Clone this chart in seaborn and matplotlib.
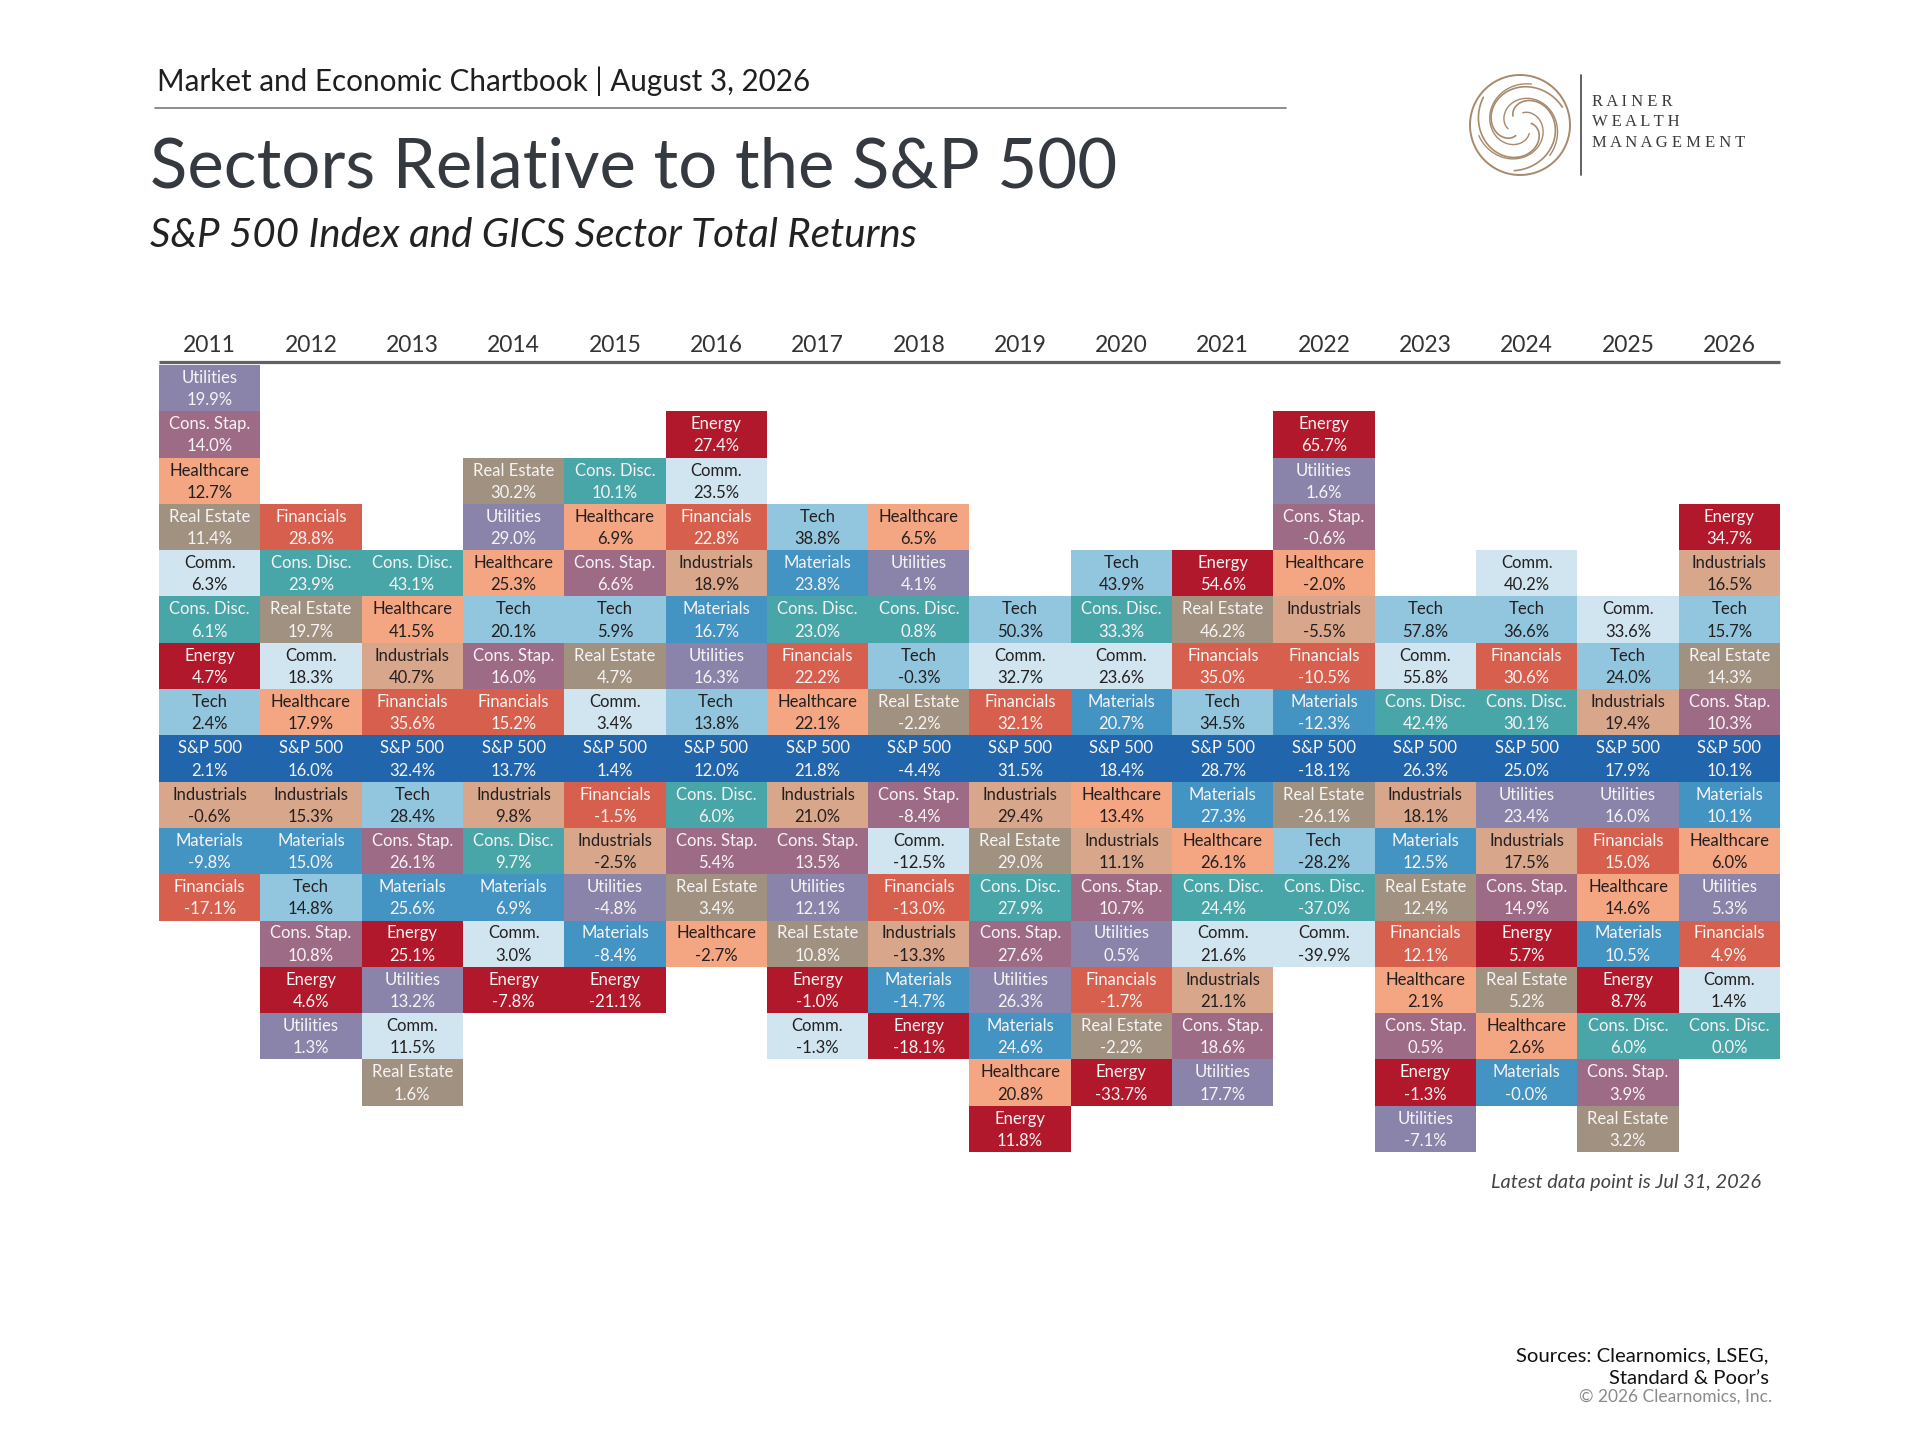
import numpy as np
import pandas as pd
import matplotlib
matplotlib.use("Agg")
import matplotlib.pyplot as plt
from matplotlib.colors import ListedColormap
import seaborn as sns

# ---------------- data ----------------
years = [2011, 2012, 2013, 2014, 2015, 2016, 2017, 2018,
         2019, 2020, 2021, 2022, 2023, 2024, 2025, 2026]

sectors = ["S&P 500", "Utilities", "Cons. Stap.", "Healthcare", "Real Estate",
           "Comm.", "Cons. Disc.", "Energy", "Tech", "Industrials",
           "Materials", "Financials"]

sp500       = [2.1, 16.0, 32.4, 13.7, 1.4, 12.0, 21.8, -4.4, 31.5, 18.4, 28.7, -18.1, 26.3, 25.0, 17.9, 10.1]
utilities   = [19.9, 1.3, 13.2, 29.0, -4.8, 16.3, 12.1, 4.1, 26.3, 0.5, 17.7, 1.6, -7.1, 23.4, 16.0, 5.3]
cons_stap   = [14.0, 10.8, 26.1, 16.0, 6.6, 5.4, 13.5, -8.4, 27.6, 10.7, 18.6, -0.6, 0.5, 14.9, 3.9, 10.3]
healthcare  = [12.7, 17.9, 41.5, 25.3, 6.9, -2.7, 22.1, 6.5, 20.8, 13.4, 26.1, -2.0, 2.1, 2.6, 14.6, 6.0]
real_estate = [11.4, 19.7, 1.6, 30.2, 4.7, 3.4, 10.8, -2.2, 29.0, -2.2, 46.2, -26.1, 12.4, 5.2, 3.2, 14.3]
comm        = [6.3, 18.3, 11.5, 3.0, 3.4, 23.5, -1.3, -12.5, 32.7, 23.6, 21.6, -39.9, 55.8, 40.2, 33.6, 1.4]
cons_disc   = [6.1, 23.9, 43.1, 9.7, 10.1, 6.0, 23.0, 0.8, 27.9, 33.3, 24.4, -37.0, 42.4, 30.1, 6.0, 0.0]
energy      = [4.7, 4.6, 25.1, -7.8, -21.1, 27.4, -1.0, -18.1, 11.8, -33.7, 54.6, 65.7, -1.3, 5.7, 8.7, 34.7]
tech        = [2.4, 14.8, 28.4, 20.1, 5.9, 13.8, 38.8, -0.3, 50.3, 43.9, 34.5, -28.2, 57.8, 36.6, 24.0, 15.7]
industrials = [-0.6, 15.3, 40.7, 9.8, -2.5, 18.9, 21.0, -13.3, 29.4, 11.1, 21.1, -5.5, 18.1, 17.5, 19.4, 16.5]
materials   = [-9.8, 15.0, 25.6, 6.9, -8.4, 16.7, 23.8, -14.7, 24.6, 20.7, 27.3, -12.3, 12.5, -0.0, 10.5, 10.1]
financials  = [-17.1, 28.8, 35.6, 15.2, -1.5, 22.8, 22.2, -13.0, 32.1, -1.7, 35.0, -10.5, 12.1, 30.6, 15.0, 4.9]

sector_colors = ["#2166ac", "#8b84aa", "#9e6b87", "#f4a582", "#a09181",
                 "#d1e5f0", "#48a6a9", "#b2182b", "#92c5de", "#d8a78b",
                 "#4393c3", "#d6604d"]
dark_text_sectors = ["Healthcare", "Comm.", "Tech", "Industrials"]

returns = pd.DataFrame(
    [sp500, utilities, cons_stap, healthcare, real_estate, comm, cons_disc,
     energy, tech, industrials, materials, financials],
    index=sectors, columns=years)

# ---------------- layout of the quilt ----------------
N_ROWS = 17
SP_ROW = 8
codes = np.full((N_ROWS, len(years)), np.nan)
cells = []  # (col, row, sector, value)
for j, y in enumerate(years):
    col = returns[y]
    order = sorted(range(len(sectors)), key=lambda i: -col.iloc[i])  # stable
    sp_rank = order.index(0)
    for rank, i in enumerate(order):
        r = SP_ROW - sp_rank + rank
        codes[r, j] = i
        cells.append((j, r, sectors[i], col.iloc[i]))

# ---------------- figure ----------------
sns.set_theme(style="white")
plt.rcParams["font.family"] = ["Lato", "DejaVu Sans"]

W, H = 1920, 1440
fig = plt.figure(figsize=(19.2, 14.4), dpi=100)
fig.patch.set_facecolor("white")

def fx(px):
    return px / W

def fy(py):
    return 1 - py / H

gl, gr, gt, gb = 159, 1780, 365, 1152
ax = fig.add_axes([fx(gl), fy(gb), fx(gr - gl), (gb - gt) / H])
sns.heatmap(codes, cmap=ListedColormap(sector_colors), vmin=-0.5, vmax=11.5,
            cbar=False, ax=ax, xticklabels=[str(y) for y in years],
            yticklabels=False, linewidths=0)
ax.xaxis.tick_top()
ax.tick_params(axis="x", length=0, pad=6.5)
for t in ax.get_xticklabels():
    t.set_fontsize(16.5)
    t.set_color("#333333")
    t.set_rotation(0)
ax.set_xlabel("")
ax.set_ylabel("")
for s in ax.spines.values():
    s.set_visible(False)
ax.plot([0, len(years)], [-0.055, -0.055], color="#5f6368", lw=2.3,
        clip_on=False, solid_capstyle="butt")

for j, r, name, v in cells:
    c = "#231f20" if name in dark_text_sectors else "#f7f4f4"
    ax.text(j + 0.5, r + 0.28, name, ha="center", va="center",
            fontsize=12, color=c)
    ax.text(j + 0.5, r + 0.76, f"{v:.1f}%", ha="center", va="center",
            fontsize=12, color=c)

# ---------------- titles ----------------
fig.text(fx(157), fy(91), "Market and Economic Chartbook | August 3, 2026",
         fontsize=21.3, color="#1f1f1f", va="baseline", ha="left")
fig.add_artist(plt.Line2D([fx(155), fx(1286)], [fy(108), fy(108)],
                          color="#7a7a7a", lw=1.2))
fig.text(fx(150), fy(187), "Sectors Relative to the S&P 500",
         fontsize=49.6, color="#343a40", va="baseline", ha="left")
fig.text(fx(150), fy(247), "S&P 500 Index and GICS Sector Total Returns",
         fontsize=29, color="#222222", va="baseline", ha="left", style="italic")

# ---------------- logo ----------------
lax = fig.add_axes([fx(1468), fy(177), fx(104), 104 / H])
lax.set_xlim(-1.04, 1.04)
lax.set_ylim(-1.04, 1.04)
lax.set_aspect("equal")
lax.axis("off")
gold = "#a8896c"
th = np.linspace(0, 2 * np.pi, 300)
lax.plot(np.cos(th), np.sin(th), color=gold, lw=1.4)
t = np.linspace(0, 1, 200)
for k in range(3):
    phi = k * 2 * np.pi / 3 + 0.4
    ang = phi + t * 1.35 * np.pi
    rr = 1.0 - 0.82 * t
    cx, cy = 0.08 * np.cos(phi + np.pi), 0.08 * np.sin(phi + np.pi)
    lax.plot(cx + rr * np.cos(ang), cy + rr * np.sin(ang), color=gold, lw=1.2)
    rr2 = 0.85 - 0.6 * t
    lax.plot(rr2 * np.cos(ang + 0.9), rr2 * np.sin(ang + 0.9), color=gold, lw=1.0)
fig.add_artist(plt.Line2D([fx(1580.5), fx(1580.5)], [fy(75), fy(175)],
                          color="#555555", lw=1.3))
for txt, yb in [("R A I N E R", 106.5), ("W E A L T H", 126.5),
                ("M A N A G E M E N T", 147)]:
    fig.text(fx(1592), fy(yb), txt, fontsize=12, color="#3c3c3c",
             family=["Liberation Serif", "DejaVu Serif"], va="baseline")

# ---------------- footer ----------------
fig.text(fx(1761), fy(1188), "Latest data point is Jul 31, 2026",
         fontsize=14.4, color="#444444", style="italic", ha="right", va="baseline")
fig.text(fx(1769), fy(1361.5), "Sources: Clearnomics, LSEG,",
         fontsize=14.6, color="#111111", ha="right", va="baseline")
fig.text(fx(1769), fy(1384), "Standard & Poor\u2019s",
         fontsize=14.6, color="#111111", ha="right", va="baseline")
fig.text(fx(1772), fy(1401.5), "\u00a9 2026 Clearnomics, Inc.",
         fontsize=12.5, color="#8a8a8a", ha="right", va="baseline")

fig.savefig("out.png", dpi=100, facecolor="white")
